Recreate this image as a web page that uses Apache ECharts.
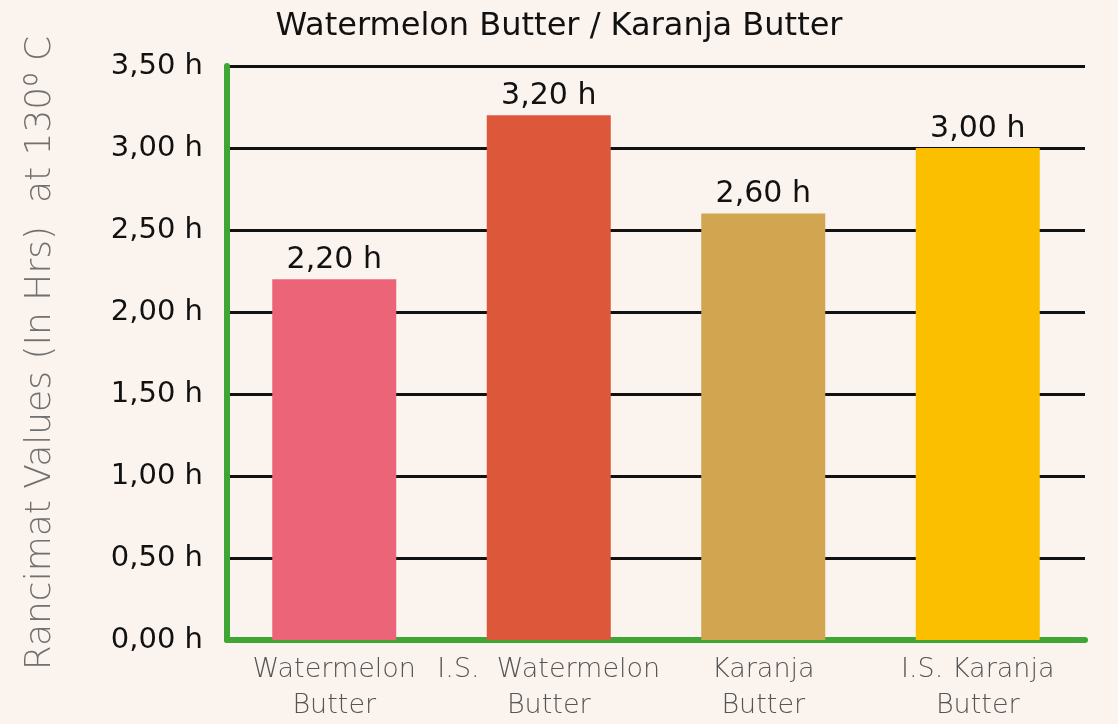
<!DOCTYPE html>
<html>
<head>
    <meta charset="utf-8">
    <title>Rancimat</title>
    <script src="https://cdn.jsdelivr.net/npm/echarts@6/dist/echarts.min.js"></script>
    <style>
        html, body { margin: 0; padding: 0; background: #faf3ee; }
        #main { width: 1118px; height: 724px; }
    </style>
</head>
<body>
    <div id="main"></div>
    <script type="text/javascript">
// data
var categories = ['Watermelon\nButter', 'I.S.  Watermelon\nButter', 'Karanja\nButter', 'I.S. Karanja\nButter'];
var hours = [2.2, 3.2, 2.6, 3.0];
var barColors = ['#ec6478', '#dd573b', '#d2a551', '#fbbf00'];

function fmt(v) {
    return v.toFixed(2).replace('.', ',') + ' h';
}

var myChart = echarts.init(document.getElementById('main'));

var option = {
    backgroundColor: '#faf3ee',
    title: {
        text: 'Watermelon Butter / Karanja Butter',
        left: 'center',
        top: 6,
        textStyle: { fontFamily: 'DejaVu Sans', fontWeight: 'normal', fontSize: 32, color: '#111' }
    },
    grid: { left: 227, right: 33, top: 66, bottom: 84 },
    xAxis: {
        type: 'category',
        data: categories,
        axisLine: { lineStyle: { color: '#3fa535', width: 6 } },
        axisTick: { show: false },
        axisLabel: {
            interval: 0,
            margin: 12,
            fontFamily: 'DejaVu Sans', fontWeight: 200, fontSize: 27, color: '#555',
            lineHeight: 36
        }
    },
    yAxis: {
        type: 'value',
        min: 0,
        max: 3.5,
        interval: 0.5,
        name: 'Rancimat Values (In Hrs)  at 130⁰ C',
        nameLocation: 'middle',
        nameGap: 168,
        nameTextStyle: { fontFamily: 'DejaVu Sans', fontWeight: 200, fontSize: 36, color: '#707070' },
        axisLine: { show: true, lineStyle: { color: '#3fa535', width: 6 } },
        axisTick: { show: false },
        axisLabel: {
            margin: 24,
            formatter: fmt,
            fontFamily: 'DejaVu Sans', fontSize: 29, color: '#111'
        },
        splitLine: { lineStyle: { color: '#111', width: 3 } }
    },
    series: [{
        type: 'bar',
        barWidth: 124,
        data: hours.map(function (v, i) {
            return { value: v, itemStyle: { color: barColors[i] } };
        }),
        label: {
            show: true,
            position: 'top',
            distance: 4,
            formatter: function (p) { return fmt(p.value); },
            fontFamily: 'DejaVu Sans', fontSize: 30, color: '#111'
        }
    }]
};

myChart.setOption(option);
    </script>
</body>
</html>
